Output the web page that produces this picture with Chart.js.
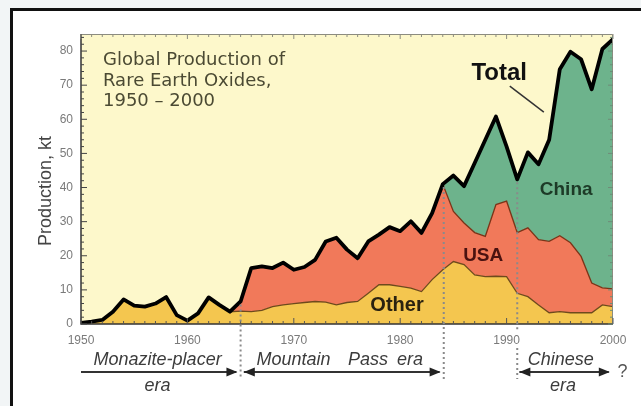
<!DOCTYPE html>
<html>
<head>
<meta charset="utf-8">
<script src="https://cdn.jsdelivr.net/npm/chart.js@4.4.1/dist/chart.umd.min.js"></script>
<style>
  html, body { margin: 0; padding: 0; background: #F2F5F6; overflow: hidden; }
  #frame { position: absolute; left: 10px; top: 8px; width: 640px; height: 420px;
           border-left: 3px solid #111; border-top: 3px solid #111; background: #fff; }
  #wrap { position: absolute; left: 0; top: 0; width: 641px; height: 406px; }
</style>
</head>
<body>
<div id="frame"></div>
<div id="wrap"><canvas id="myChart" width="641" height="406"></canvas></div>
<script>
// rare earth oxide production, kt
var years = [1950, 1951, 1952, 1953, 1954, 1955, 1956, 1957, 1958, 1959,
             1960, 1961, 1962, 1963, 1964, 1965, 1966, 1967, 1968, 1969,
             1970, 1971, 1972, 1973, 1974, 1975, 1976, 1977, 1978, 1979,
             1980, 1981, 1982, 1983, 1984, 1985, 1986, 1987, 1988, 1989,
             1990, 1991, 1992, 1993, 1994, 1995, 1996, 1997, 1998, 1999, 2000];

var other = [0.3, 0.7, 1.2, 3.6, 7.2, 5.4, 5.1, 6.0, 7.9, 2.6,
             1.0, 3.1, 7.8, 5.6, 3.6, 3.8, 3.6, 4.0, 5.1, 5.6,
             6.0, 6.3, 6.6, 6.4, 5.6, 6.3, 6.6, 9.0, 11.5, 11.5,
             11.0, 10.5, 9.5, 13.0, 15.9, 18.3, 17.4, 14.4, 13.9, 14.0,
             13.9, 9.0, 8.0, 5.6, 3.3, 3.6, 3.3, 3.3, 3.3, 5.6, 5.1];

var usa = [0, 0, 0, 0, 0, 0, 0, 0, 0, 0,
           0, 0, 0, 0, 0, 2.8, 12.8, 12.9, 11.3, 12.4,
           9.9, 10.4, 12.2, 17.8, 19.7, 15.5, 12.7, 15.2, 14.7, 16.9,
           16.2, 19.6, 17.2, 19.5, 25.1, 14.7, 12.2, 12.4, 11.8, 21.0,
           22.1, 17.8, 20.2, 19.1, 20.9, 22.3, 20.5, 16.5, 8.7, 5.0, 5.2];

var china = [0, 0, 0, 0, 0, 0, 0, 0, 0, 0,
             0, 0, 0, 0, 0, 0, 0, 0, 0, 0,
             0, 0, 0, 0, 0, 0, 0, 0, 0, 0,
             0, 0, 0, 0, 0, 10.5, 10.8, 20.4, 28.3, 25.8,
             16.0, 15.6, 22.1, 22.1, 29.8, 48.8, 56.0, 57.8, 56.8, 70.0, 73.2];

var yTicks = [0, 10, 20, 30, 40, 50, 60, 70, 80];
var xTicks = [1950, 1960, 1970, 1980, 1990, 2000];
var eraYears = [1965, 1984, 1991];

var total = years.map(function (yr, i) { return other[i] + usa[i] + china[i]; });
function pts(arr) { return years.map(function (yr, i) { return { x: yr, y: arr[i] }; }); }

function line(ctx, x1, y1, x2, y2) {
   ctx.beginPath(); ctx.moveTo(x1, y1); ctx.lineTo(x2, y2); ctx.stroke();
}
function head(ctx, x, y, dir) {
   ctx.beginPath();
   ctx.moveTo(x, y);
   ctx.lineTo(x - dir * 11, y - 4.5);
   ctx.lineTo(x - dir * 11, y + 4.5);
   ctx.closePath();
   ctx.fill();
}
function text(ctx, s, x, y, font, color, align) {
   ctx.font = font;
   ctx.fillStyle = color;
   ctx.textAlign = align || 'center';
   ctx.textBaseline = 'middle';
   ctx.fillText(s, x, y);
}

var decor = {
   id: 'decor',
   beforeDraw: function (chart) {
      var ctx = chart.ctx, a = chart.chartArea;
      ctx.save();
      ctx.fillStyle = '#FDF8CB';
      ctx.fillRect(a.left, a.top, a.right - a.left, a.bottom - a.top);
      ctx.restore();
   },
   afterDatasetsDraw: function (chart) {
      var ctx = chart.ctx, a = chart.chartArea;
      var xs = chart.scales.x, ys = chart.scales.y;
      var X = function (v) { return xs.getPixelForValue(v); };
      var Y = function (v) { return ys.getPixelForValue(v); };
      ctx.save();

      // plot frame
      ctx.lineWidth = 1;
      ctx.strokeStyle = '#8c8c80';
      ctx.beginPath();
      ctx.moveTo(a.left, a.top + 0.5); ctx.lineTo(a.right - 0.5, a.top + 0.5); ctx.lineTo(a.right - 0.5, a.bottom);
      ctx.stroke();
      ctx.strokeStyle = '#333';
      ctx.lineWidth = 1.5;
      ctx.beginPath();
      ctx.moveTo(a.left, a.top); ctx.lineTo(a.left, a.bottom); ctx.lineTo(a.right, a.bottom);
      ctx.stroke();

      // inward tick marks
      ctx.lineWidth = 1;
      for (var yr = 1950; yr <= 2000; yr++) {
         var px = X(yr), big = yr % 10 === 0;
         ctx.strokeStyle = '#555';
         line(ctx, px, a.bottom, px, a.bottom - (big ? 6 : 3));
         ctx.strokeStyle = '#8c8c80';
         line(ctx, px, a.top, px, a.top + (big ? 5 : 3));
      }
      for (var v = 0; v <= 84; v += 2) {
         var py = Y(v), bigY = v % 10 === 0;
         ctx.strokeStyle = '#444';
         line(ctx, a.left, py, a.left + (bigY ? 6 : 3), py);
         ctx.strokeStyle = '#6f8c78';
         line(ctx, a.right, py, a.right - (bigY ? 5 : 3), py);
      }

      // dotted era dividers
      ctx.strokeStyle = '#8a8a8a';
      ctx.lineWidth = 2;
      ctx.setLineDash([2, 3]);
      eraYears.forEach(function (e) {
         var i = years.indexOf(e);
         var ex = X(e) + (e === 1984 ? 1 : 0);
         if (e === 1991) {
            line(ctx, ex, Y(total[i]) + 3, ex, a.bottom + 6);
            line(ctx, ex, a.bottom + 24, ex, a.bottom + 55);
         } else {
            line(ctx, ex, Y(total[i]) + 3, ex, a.bottom + 55);
         }
      });
      ctx.setLineDash([]);

      // series labels
      text(ctx, 'Total', X(1989.3), Y(73.5), 'bold 24px "Liberation Sans", Arial, sans-serif', '#111');
      text(ctx, 'China', X(1995.6), Y(39.4), 'bold 19px "Liberation Sans", Arial, sans-serif', '#1d3a27');
      text(ctx, 'USA', X(1987.8), Y(20), 'bold 19px "Liberation Sans", Arial, sans-serif', '#4a1210');
      text(ctx, 'Other', X(1979.7), Y(5.4), 'bold 20px "Liberation Sans", Arial, sans-serif', '#2a2210');
      ctx.strokeStyle = '#333';
      ctx.lineWidth = 1.5;
      line(ctx, X(1990.3), Y(69.7), X(1993.5), Y(62.1));

      // chart title
      var tf = '18px "DejaVu Sans", sans-serif';
      ctx.textBaseline = 'alphabetic';
      ctx.textAlign = 'left';
      ctx.font = tf;
      ctx.fillStyle = '#4b4a33';
      ctx.fillText('Global Production of', a.left + 22, a.top + 31);
      ctx.fillText('Rare Earth Oxides,', a.left + 22, a.top + 52);
      ctx.fillText('1950 \u2013 2000', a.left + 22, a.top + 72);

      // y axis title
      ctx.save();
      ctx.translate(46, 191);
      ctx.rotate(-Math.PI / 2);
      text(ctx, 'Production, kt', 0, 0, '18px "Liberation Sans", Arial, sans-serif', '#444');
      ctx.restore();

      // era annotations
      var ef = 'italic 18px "Liberation Sans", Arial, sans-serif', ec = '#3c3c3c';
      var rowT = a.bottom + 36, rowA = a.bottom + 48, rowE = a.bottom + 62;
      text(ctx, 'Monazite-placer', X(1957.2), rowT, ef, ec);
      text(ctx, 'era', X(1957.2), rowE, ef, ec);
      text(ctx, 'Mountain', X(1966.5), rowT, ef, ec, 'left');
      text(ctx, 'Pass', X(1975.1), rowT, ef, ec, 'left');
      text(ctx, 'era', X(1979.7), rowT, ef, ec, 'left');
      text(ctx, 'Chinese', X(1995.1), rowT, ef, ec);
      text(ctx, 'era', X(1995.3), rowE, ef, ec);
      text(ctx, '?', X(2000.9), rowA, '18px "Liberation Sans", Arial, sans-serif', '#555');

      ctx.strokeStyle = '#333';
      ctx.fillStyle = '#222';
      ctx.lineWidth = 2;
      line(ctx, X(1950), rowA, X(1964.6), rowA);
      head(ctx, X(1964.7), rowA, 1);
      line(ctx, X(1965.3), rowA, X(1983.7), rowA);
      head(ctx, X(1965.3), rowA, -1);
      head(ctx, X(1983.8), rowA, 1);
      line(ctx, X(1991.2), rowA, X(1999.6), rowA);
      head(ctx, X(1991.2), rowA, -1);
      head(ctx, X(1999.7), rowA, 1);

      ctx.restore();
   }
};

var ctx = document.getElementById('myChart').getContext('2d');
var myChart = new Chart(ctx, {
   type: 'line',
   data: {
      datasets: [{
         label: 'Total',
         data: pts(total),
         stack: 'total',
         fill: false,
         borderColor: '#000',
         borderWidth: 3.8,
         borderJoinStyle: 'round',
         pointRadius: 0
      }, {
         label: 'Other',
         data: pts(other),
         stack: 'src',
         fill: 'origin',
         backgroundColor: '#F4C64F',
         borderColor: '#6e4a1c',
         borderWidth: 1.3,
         pointRadius: 0
      }, {
         label: 'USA',
         data: pts(usa),
         stack: 'src',
         fill: '-1',
         backgroundColor: '#F1795A',
         borderColor: '#7a3418',
         borderWidth: 1.3,
         pointRadius: 0
      }, {
         label: 'China',
         data: pts(china),
         stack: 'src',
         fill: '-1',
         backgroundColor: '#6DB38C',
         borderWidth: 0,
         pointRadius: 0
      }]
   },
   options: {
      responsive: false,
      animation: false,
      layout: { padding: { left: 20, right: 28, top: 34, bottom: 52 } },
      plugins: { legend: { display: false }, tooltip: { enabled: false } },
      elements: { line: { tension: 0 } },
      scales: {
         x: {
            type: 'linear',
            min: 1950,
            max: 2000,
            grid: { display: false, drawTicks: false, tickLength: 0 },
            border: { display: false },
            afterFit: function (s) { s.height = 30; },
            afterBuildTicks: function (s) { s.ticks = xTicks.map(function (v) { return { value: v }; }); },
            ticks: {
               padding: 9,
               maxRotation: 0,
               color: '#7a7a7a',
               font: { family: '"Liberation Sans", Arial, sans-serif', size: 12 },
               callback: function (v) { return String(v); }
            }
         },
         y: {
            min: 0,
            max: 85,
            stacked: true,
            grid: { display: false, drawTicks: false, tickLength: 0 },
            border: { display: false },
            afterFit: function (s) { s.width = 61; },
            afterBuildTicks: function (s) { s.ticks = yTicks.map(function (v) { return { value: v }; }); },
            ticks: {
               padding: 8,
               color: '#7a7a7a',
               font: { family: '"Liberation Sans", Arial, sans-serif', size: 12 },
               callback: function (v) { return String(v); }
            }
         }
      }
   },
   plugins: [decor]
});
</script>
</body>
</html>
